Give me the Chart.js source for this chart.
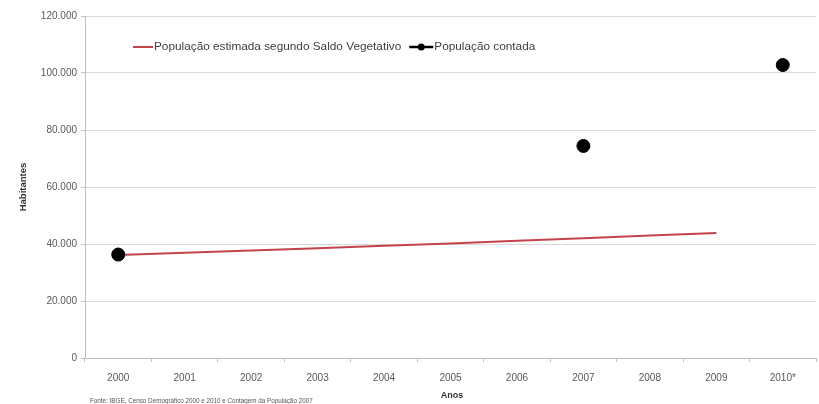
<!DOCTYPE html>
<html>
<head>
<meta charset="utf-8">
<script src="https://cdn.jsdelivr.net/npm/chart.js@4/dist/chart.umd.min.js"></script>
<style>
html,body{margin:0;padding:0;background:#fff;}
#wrap{width:819px;height:404px;position:relative;}
</style>
</head>
<body>
<div id="wrap"><canvas id="c" width="819" height="404"></canvas></div>
<script>
const categories = ['2000','2001','2002','2003','2004','2005','2006','2007','2008','2009','2010*'];
const estimatedPop = [36100, 36900, 37700, 38500, 39350, 40200, 41100, 42000, 42950, 43900, null];
const countedPop = [36300, null, null, null, null, null, null, 74400, null, null, 102800];
const yTicks = [0, 20000, 40000, 60000, 80000, 100000, 120000];
const estimatedLabel = 'População estimada segundo Saldo Vegetativo';
const countedLabel = 'População contada';
const yTitle = 'Habitantes';
const xTitle = 'Anos';
const sourceNote = 'Fonte: IBGE, Censo Demográfico 2000 e 2010 e Contagem da População 2007';

const FONT = '"Liberation Sans", Arial, sans-serif';
const RED = '#c4434a';

function fmt(v){ return String(v).replace(/\B(?=(\d{3})+(?!\d))/g, '.'); }

const extras = {
  id: 'extras',
  afterDraw(chart){
    const ctx = chart.ctx;
    ctx.save();
    // legend
    const ly = 47;
    ctx.font = '11.8px ' + FONT;
    ctx.textBaseline = 'middle';
    ctx.fillStyle = '#404040';
    let x = 133;
    ctx.strokeStyle = chart.data.datasets[0].borderColor;
    ctx.lineWidth = 2;
    ctx.beginPath(); ctx.moveTo(x, ly); ctx.lineTo(x + 20, ly); ctx.stroke();
    x += 21;
    ctx.textAlign = 'left';
    ctx.fillText(chart.data.datasets[0].label, x, ly);
    x += ctx.measureText(chart.data.datasets[0].label).width + 8;
    ctx.strokeStyle = '#000';
    ctx.lineWidth = 2.5;
    ctx.beginPath(); ctx.moveTo(x, ly); ctx.lineTo(x + 24, ly); ctx.stroke();
    ctx.fillStyle = '#000';
    ctx.beginPath(); ctx.arc(x + 12, ly, 3.5, 0, Math.PI * 2); ctx.fill();
    x += 25;
    ctx.fillStyle = '#404040';
    ctx.fillText(chart.data.datasets[1].label, x, ly);
    // y title
    ctx.save();
    ctx.translate(23, (chart.chartArea.top + chart.chartArea.bottom) / 2);
    ctx.rotate(-Math.PI / 2);
    ctx.font = 'bold 9.5px ' + FONT;
    ctx.textAlign = 'center';
    ctx.fillStyle = '#333';
    ctx.fillText(yTitle, 0, 0);
    ctx.restore();
    // x title
    ctx.font = 'bold 9px ' + FONT;
    ctx.textAlign = 'center';
    ctx.fillStyle = '#333';
    ctx.fillText(xTitle, 452, 396);
    // source
    ctx.font = '6.3px ' + FONT;
    ctx.textAlign = 'left';
    ctx.fillStyle = '#555';
    ctx.fillText(sourceNote, 90, 401);
    ctx.restore();
  }
};

new Chart(document.getElementById('c'), {
  type: 'line',
  data: {
    labels: categories,
    datasets: [
      {
        label: estimatedLabel,
        data: estimatedPop,
        borderColor: RED,
        backgroundColor: RED,
        borderWidth: 2,
        pointRadius: 0,
        pointHoverRadius: 0,
        tension: 0,
        spanGaps: false,
        order: 2
      },
      {
        label: countedLabel,
        data: countedPop,
        borderColor: '#000',
        backgroundColor: '#000',
        showLine: false,
        pointRadius: 6.5,
        pointStyle: 'circle',
        order: 1
      }
    ]
  },
  options: {
    responsive: false,
    animation: false,
    devicePixelRatio: 1,
    layout: { autoPadding: false, padding: { top: 16, right: 3, left: 0, bottom: 0 } },
    plugins: {
      legend: { display: false },
      tooltip: { enabled: false },
      title: { display: false }
    },
    scales: {
      x: {
        type: 'category',
        offset: true,
        grid: { display: true, offset: true, drawOnChartArea: false, drawTicks: true, tickLength: 4, color: '#bfbfbf' },
        border: { display: true, color: '#bfbfbf', width: 1 },
        ticks: { color: '#595959', font: { family: FONT, size: 10 }, padding: 10, maxRotation: 0, autoSkip: false },
        afterFit(s){ s.height = 46; s.paddingLeft = 0; s.paddingRight = 0; }
      },
      y: {
        min: 0,
        max: 120000,
        afterBuildTicks(s){ s.ticks = yTicks.map(v => ({ value: v })); },
        grid: { color: '#d9d9d9', lineWidth: 1, drawTicks: true, tickLength: 4, tickColor: '#bfbfbf' },
        border: { display: true, color: '#bfbfbf', width: 1 },
        ticks: { color: '#595959', font: { family: FONT, size: 10 }, padding: 4, callback: v => fmt(v) },
        afterFit(s){ s.width = 85; s.paddingTop = 0; s.paddingBottom = 0; }
      }
    }
  },
  plugins: [extras]
});
</script>
</body>
</html>
